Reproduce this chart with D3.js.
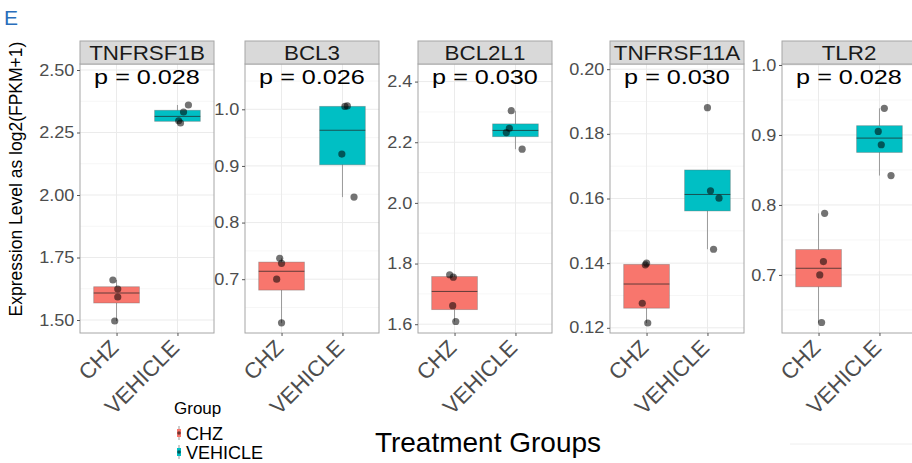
<!DOCTYPE html>
<html>
<head>
<meta charset="utf-8">
<script src="https://cdn.jsdelivr.net/npm/d3@7"></script>
<style>
  body { margin: 0; background: #fff; }
  text { font-family: "Liberation Sans", Arial, sans-serif; }
</style>
</head>
<body>
<script>
// data
const genes = ['TNFRSF1B', 'BCL3', 'BCL2L1', 'TNFRSF11A', 'TLR2'];
const pValues = ['0.028', '0.026', '0.030', '0.030', '0.028'];
const groups = ['CHZ', 'VEHICLE'];

const chzValues = [
  [1.66, 1.624, 1.592, 1.496],
  [0.737, 0.728, 0.700, 0.623],
  [1.763, 1.755, 1.661, 1.609],
  [0.1400, 0.1395, 0.1276, 0.1215],
  [0.788, 0.719, 0.700, 0.632]
];
const vehicleValues = [
  [2.360, 2.332, 2.297, 2.288],
  [1.006, 1.005, 0.921, 0.845],
  [2.304, 2.246, 2.232, 2.177],
  [0.1881, 0.1624, 0.1601, 0.1443],
  [0.938, 0.905, 0.886, 0.842]
];

const yTicks = [
  [1.50, 1.75, 2.00, 2.25, 2.50],
  [0.7, 0.8, 0.9, 1.0],
  [1.6, 1.8, 2.0, 2.2, 2.4],
  [0.12, 0.14, 0.16, 0.18, 0.20],
  [0.7, 0.8, 0.9, 1.0]
];
const tickFormats = ['.2f', '.1f', '.1f', '.2f', '.1f'];
const yLimits = [
  [1.448, 2.524],
  [0.605, 1.080],
  [1.571, 2.458],
  [0.1184, 0.2016],
  [0.617, 1.0014]
];

// horizontal jitter of the points, as a share of the category step
const jitterChz = [
  [-0.06, 0.02, 0.02, -0.03],
  [-0.03, 0, -0.08, 0],
  [-0.08, -0.02, -0.03, 0.02],
  [0, -0.02, -0.07, 0.02],
  [0.1, 0.08, 0.02, 0.05]
];
const jitterVeh = [
  [0.18, 0.1, 0.02, 0.05],
  [0.08, 0.04, -0.01, 0.19],
  [-0.07, -0.1, -0.15, 0.11],
  [0, 0.05, 0.19, 0.1],
  [0.08, -0.02, 0.03, 0.19]
];

const colors = { CHZ: '#F8766D', VEHICLE: '#00BFC4' };

// layout
const W = 912, H = 463;
const panelLeft = [80, 245, 418, 610, 782];
const panelW = 134;
const stripTop = 41, stripBottom = 64, plotBottom = 333;
const gridCol = '#ebebeb';
const frameCol = '#a6a6a6';

const svg = d3.select('body').append('svg')
  .attr('width', W)
  .attr('height', H);

function stretchText(g, x, y, str, size, sx, anchor) {
  return g.append('text')
    .attr('transform', 'translate(' + x + ',' + y + ') scale(' + sx + ',1)')
    .attr('text-anchor', anchor)
    .style('font-size', size + 'px')
    .text(str);
}

genes.forEach(function(gene, i) {
  const g = svg.append('g').attr('transform', 'translate(' + panelLeft[i] + ',0)');

  const x = d3.scalePoint().domain(groups).range([0, panelW]).padding(0.6);
  const y = d3.scaleLinear().domain(yLimits[i]).range([plotBottom, stripBottom]);
  const step = x.step();
  const boxW = step * 0.75;

  // grid
  const ticks = yTicks[i];
  const dt = ticks[1] - ticks[0];
  const minor = [];
  for (let v = ticks[0] - dt / 2; v <= yLimits[i][1]; v += dt) {
    if (v >= yLimits[i][0]) minor.push(v);
  }
  g.selectAll('.minor').data(minor).enter().append('line')
    .attr('x1', 0).attr('x2', panelW)
    .attr('y1', d => y(d)).attr('y2', d => y(d))
    .attr('stroke', '#f4f4f4').attr('stroke-width', 0.8);
  g.selectAll('.major').data(ticks).enter().append('line')
    .attr('x1', 0).attr('x2', panelW)
    .attr('y1', d => y(d)).attr('y2', d => y(d))
    .attr('stroke', gridCol).attr('stroke-width', 1);
  g.selectAll('.vgrid').data(groups).enter().append('line')
    .attr('x1', d => x(d)).attr('x2', d => x(d))
    .attr('y1', stripBottom).attr('y2', plotBottom)
    .attr('stroke', gridCol).attr('stroke-width', 1);

  // boxes
  const sets = [
    { grp: 'CHZ', vals: chzValues[i], jit: jitterChz[i] },
    { grp: 'VEHICLE', vals: vehicleValues[i], jit: jitterVeh[i] }
  ];

  sets.forEach(function(s) {
    const sorted = s.vals.slice().sort(d3.ascending);
    const q1 = d3.quantile(sorted, 0.25);
    const med = d3.quantile(sorted, 0.5);
    const q3 = d3.quantile(sorted, 0.75);
    const iqr = q3 - q1;
    const lo = d3.min(sorted.filter(v => v >= q1 - 1.5 * iqr));
    const hi = d3.max(sorted.filter(v => v <= q3 + 1.5 * iqr));
    const cx = x(s.grp);

    g.append('line')
      .attr('x1', cx).attr('x2', cx)
      .attr('y1', y(lo)).attr('y2', y(hi))
      .attr('stroke', '#999').attr('stroke-width', 1);
    g.append('rect')
      .attr('x', cx - boxW / 2)
      .attr('y', y(q3))
      .attr('width', boxW)
      .attr('height', y(q1) - y(q3))
      .attr('fill', colors[s.grp])
      .attr('stroke', '#666').attr('stroke-opacity', 0.45).attr('stroke-width', 0.8);
    g.append('line')
      .attr('x1', cx - boxW / 2).attr('x2', cx + boxW / 2)
      .attr('y1', y(med)).attr('y2', y(med))
      .attr('stroke', '#222').attr('stroke-opacity', 0.7).attr('stroke-width', 1);

    g.selectAll(null).data(s.vals).enter().append('circle')
      .attr('cx', (d, k) => cx + s.jit[k] * step)
      .attr('cy', d => y(d))
      .attr('r', 3.6)
      .attr('fill', '#000')
      .attr('fill-opacity', 0.55);
  });

  // frame and strip
  g.append('rect')
    .attr('x', 0).attr('y', stripBottom)
    .attr('width', panelW).attr('height', plotBottom - stripBottom)
    .attr('fill', 'none').attr('stroke', frameCol).attr('stroke-width', 1);
  g.append('rect')
    .attr('x', 0).attr('y', stripTop)
    .attr('width', panelW).attr('height', stripBottom - stripTop)
    .attr('fill', '#d9d9d9').attr('stroke', frameCol).attr('stroke-width', 1);
  stretchText(g, panelW / 2, 59.5, gene, 20, 1.12, 'middle').attr('fill', '#1a1a1a');

  // p value
  stretchText(g, panelW / 2, 84, 'p = ' + pValues[i], 21, 1.2, 'middle').attr('fill', '#000');

  // y axis
  const yAxis = d3.axisLeft(y)
    .tickValues(ticks)
    .tickFormat(d3.format(tickFormats[i]))
    .tickSize(3)
    .tickPadding(2);
  const ya = g.append('g').call(yAxis);
  ya.select('.domain').remove();
  ya.selectAll('.tick line').attr('stroke', '#555');
  ya.selectAll('.tick text')
    .attr('transform', 'scale(1.13,1)')
    .attr('fill', '#4d4d4d')
    .style('font-size', '16px')
    .style('font-family', '"Liberation Sans", Arial, sans-serif');

  // x axis
  const xAxis = d3.axisBottom(x).tickSize(3).tickFormat('');
  const xa = g.append('g').attr('transform', 'translate(0,' + plotBottom + ')').call(xAxis);
  xa.select('.domain').remove();
  xa.selectAll('.tick line').attr('stroke', '#555');

  g.selectAll('.xlab').data(groups).enter().append('text')
    .attr('transform', d => 'translate(' + (x(d) - 8) + ',' + (plotBottom + 5) + ') rotate(-45)')
    .attr('text-anchor', 'end')
    .attr('dy', '0.72em')
    .style('font-size', '22px')
    .attr('fill', '#4d4d4d')
    .text(d => d);
});

// panel label
svg.append('text')
  .attr('x', 4).attr('y', 25)
  .style('font-size', '21px')
  .attr('fill', '#2a6ebb')
  .text('E');

// y title
svg.append('text')
  .attr('transform', 'translate(22,179) rotate(-90)')
  .attr('text-anchor', 'middle')
  .style('font-size', '17.5px')
  .attr('fill', '#000')
  .text('Expression Level as log2(FPKM+1)');

// x title
svg.append('text')
  .attr('x', 488).attr('y', 452)
  .attr('text-anchor', 'middle')
  .style('font-size', '28px')
  .attr('fill', '#000')
  .text('Treatment Groups');

// legend
const legend = svg.append('g');
legend.append('text')
  .attr('x', 174).attr('y', 414)
  .style('font-size', '17px')
  .attr('fill', '#000')
  .text('Group');

const legendItems = legend.selectAll('.item').data(groups).enter().append('g')
  .attr('transform', (d, k) => 'translate(179,' + (433 + k * 19) + ')');
legendItems.append('line')
  .attr('y1', -7).attr('y2', 7)
  .attr('stroke', '#999').attr('stroke-width', 1);
legendItems.append('rect')
  .attr('x', -2).attr('y', -4).attr('width', 4).attr('height', 8)
  .attr('fill', d => colors[d]);
legendItems.append('circle')
  .attr('r', 1.8)
  .attr('fill', '#000').attr('fill-opacity', 0.55);
legendItems.append('text')
  .attr('x', 7).attr('y', 6.5)
  .style('font-size', '18px')
  .attr('fill', '#000')
  .text(d => d);

// faint rule at bottom right
svg.append('line')
  .attr('x1', 790).attr('x2', 912)
  .attr('y1', 444).attr('y2', 444)
  .attr('stroke', '#eeeeee').attr('stroke-width', 1);
</script>
</body>
</html>
